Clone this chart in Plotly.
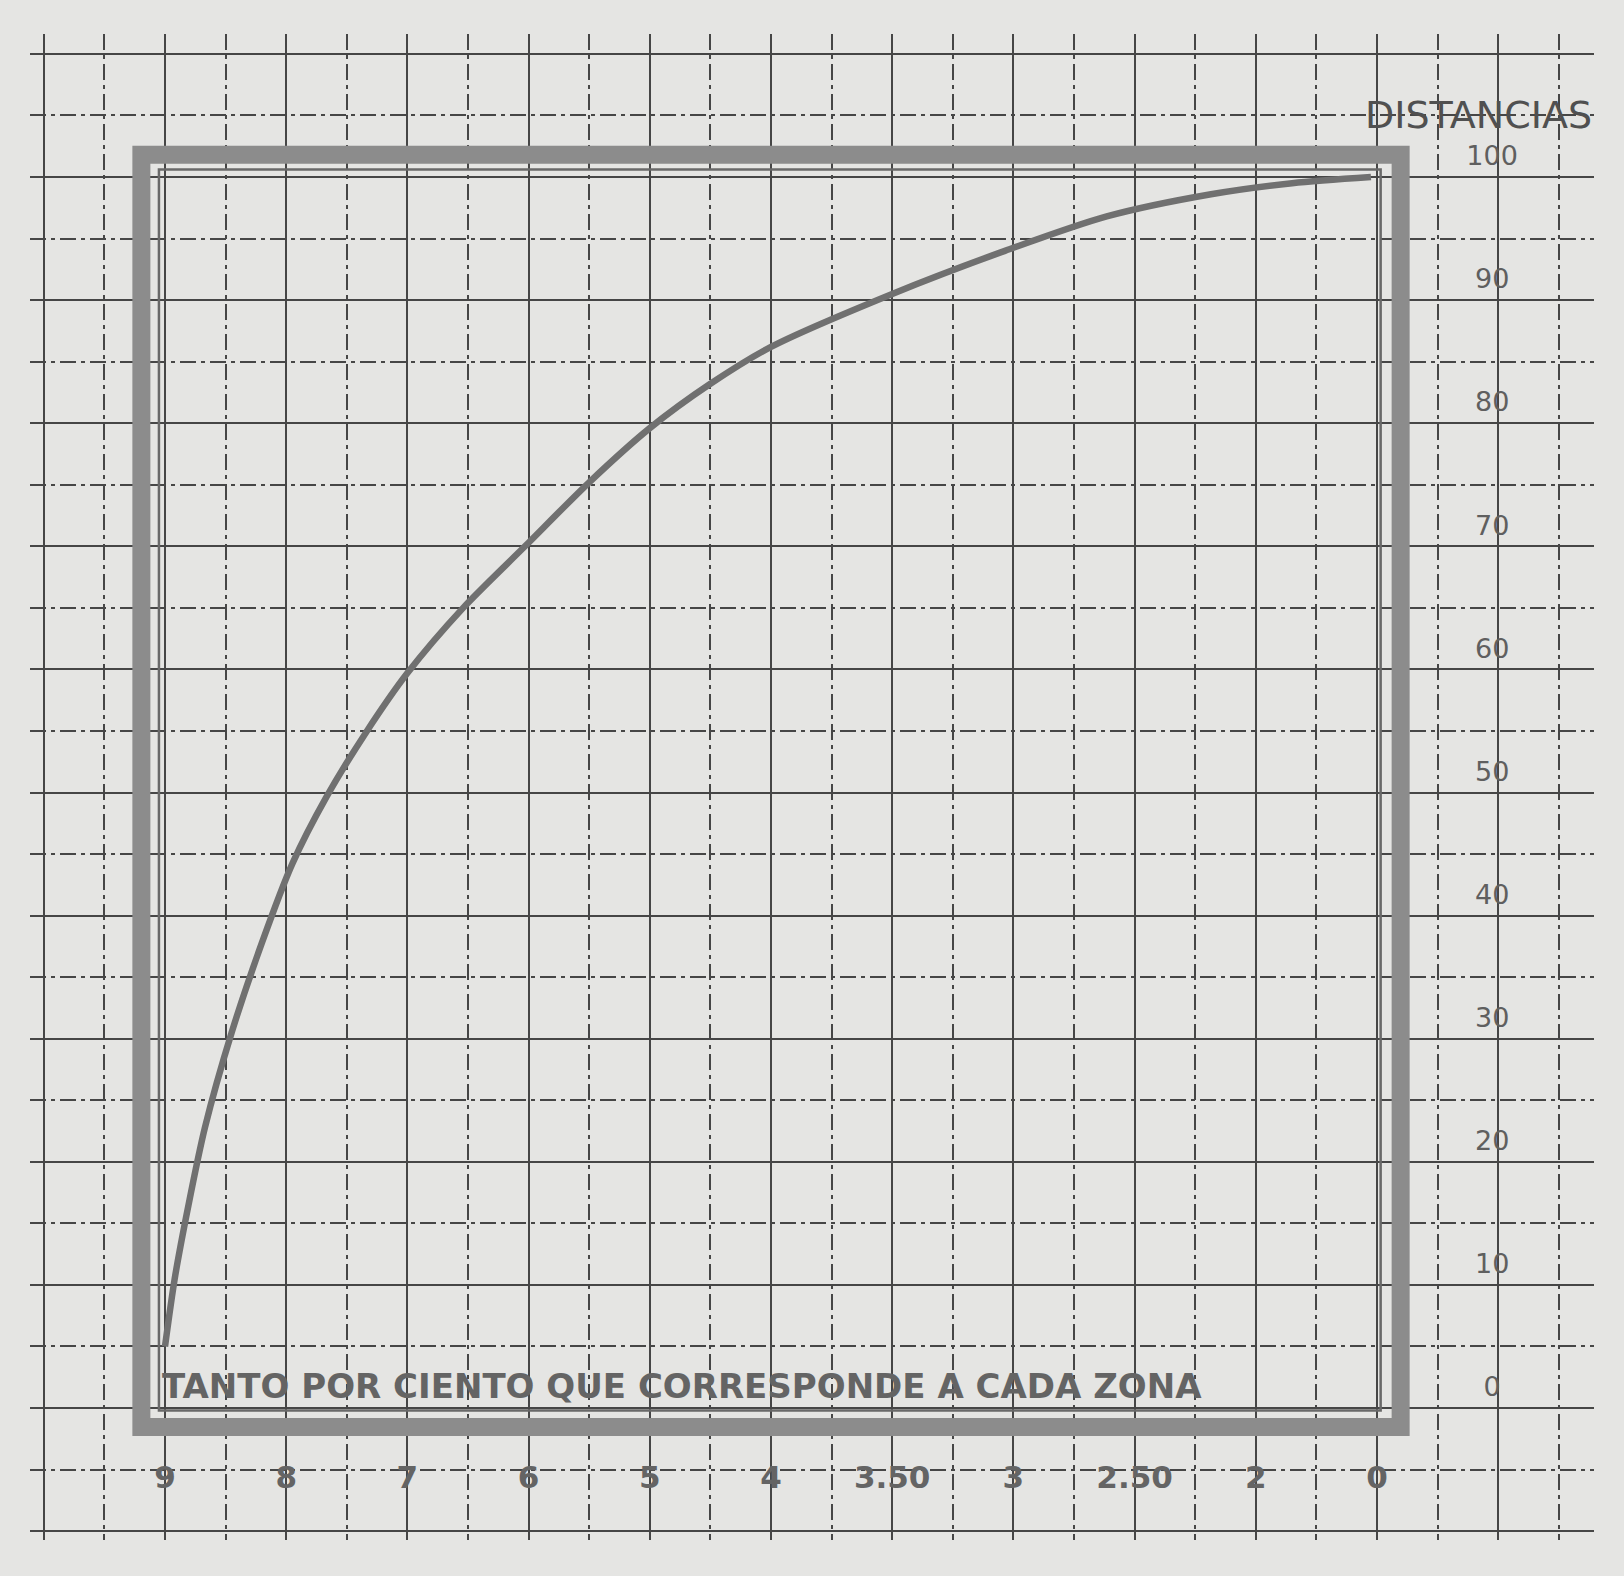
import plotly.graph_objects as go

# ---- data ----
zone_labels = ["9", "8", "7", "6", "5", "4", "3.50", "3", "2.50", "2", "0"]
zone_pos = list(range(len(zone_labels)))
dist_ticks = [0, 10, 20, 30, 40, 50, 60, 70, 80, 90, 100]

curve_x = [0, 0.08, 0.19, 0.33, 0.55, 0.8, 1.05, 1.33, 1.66, 2.0, 2.46, 2.97,
           3.5, 4.0, 4.5, 5.0, 6.0, 6.93, 7.77, 8.63, 9.3, 9.95]
curve_y = [5, 10.5, 16.3, 22.8, 30.5, 37.8, 44.2, 49.6, 54.9, 59.7, 65, 70,
           75.2, 79.6, 83.2, 86.2, 90.5, 94.0, 96.8, 98.6, 99.5, 100]

y_title = "DISTANCIAS"
x_title = "TANTO POR CIENTO QUE CORRESPONDE A CADA ZONA"

# ---- styling ----
PAPER = "rgb(229,229,227)"
GRID = "rgb(70,70,70)"
BAND = "rgb(140,140,140)"

W, H = 1624, 1576
ml, mr, mt, mb = 30, 30, 34, 36
px_per_x = 121.2
px_per_y = 12.31
x_lo = -(165 - ml) / px_per_x
x_hi = x_lo + (W - ml - mr) / px_per_x
y_hi = (1408 - mt) / px_per_y
y_lo = y_hi - (H - mt - mb) / px_per_y

fig = go.Figure()

# curve
fig.add_trace(go.Scatter(
    x=curve_x, y=curve_y, mode="lines",
    line=dict(color="rgb(112,112,112)", width=6.5, shape="spline", smoothing=0.8),
    hoverinfo="skip", showlegend=False))

# zone labels (bottom)
fig.add_trace(go.Scatter(
    x=zone_pos, y=[-5.9] * len(zone_pos), mode="text", text=zone_labels,
    textfont=dict(family="DejaVu Sans", size=31, color="rgb(100,100,100)", weight="bold"),
    hoverinfo="skip", showlegend=False))

# distance labels (right)
fig.add_trace(go.Scatter(
    x=[zone_pos[-1] + 0.95] * len(dist_ticks), y=[v + 1.5 for v in dist_ticks],
    mode="text", text=[str(v) for v in dist_ticks],
    textfont=dict(family="DejaVu Sans", size=27, color="rgb(95,95,95)"),
    hoverinfo="skip", showlegend=False))

x0, x1 = zone_pos[0], zone_pos[-1]
y0, y1 = dist_ticks[0], dist_ticks[-1]

# double frame
fig.add_shape(type="rect", xref="x", yref="y",
              x0=x0 - 0.195, x1=x1 + 0.195, y0=y0 - 1.55, y1=y1 + 1.8,
              line=dict(color=BAND, width=18), layer="above")
fig.add_shape(type="rect", xref="x", yref="y",
              x0=x0 - 0.05, x1=x1 + 0.03, y0=y0 - 0.2, y1=y1 + 0.6,
              line=dict(color="rgb(105,105,105)", width=2.5), layer="above")

fig.add_annotation(x=x1 + 0.84, y=105.0, xref="x", yref="y", text=y_title,
                   showarrow=False,
                   font=dict(family="DejaVu Sans", size=38, color="rgb(80,80,80)"))
fig.add_annotation(x=x0 - 0.04, y=1.8, xref="x", yref="y", text=x_title,
                   showarrow=False, xanchor="left",
                   font=dict(family="DejaVu Sans", size=34, color="rgb(100,100,100)",
                             weight="bold"))

minor_dash = "16px,5px,4px,5px"
fig.update_layout(
    width=W, height=H,
    margin=dict(l=ml, r=mr, t=mt, b=mb),
    paper_bgcolor=PAPER, plot_bgcolor=PAPER,
    showlegend=False,
    xaxis=dict(range=[x_lo, x_hi], tick0=0, dtick=1, showgrid=True,
               gridcolor=GRID, gridwidth=2.3, zeroline=False,
               showticklabels=False, ticks="", showline=False,
               minor=dict(tick0=0, dtick=0.5, showgrid=True, gridcolor=GRID,
                          gridwidth=2, griddash=minor_dash)),
    yaxis=dict(range=[y_lo, y_hi], tick0=0, dtick=10, showgrid=True,
               gridcolor=GRID, gridwidth=2.3, zeroline=False,
               showticklabels=False, ticks="", showline=False,
               minor=dict(tick0=0, dtick=5, showgrid=True, gridcolor=GRID,
                          gridwidth=2, griddash=minor_dash)),
)

post = ("document.body.style.margin='0';"
        "document.body.style.background='" + PAPER + "';"
        "document.documentElement.style.background='" + PAPER + "';")
fig.write_html("out.html", post_script=post, config={"displayModeBar": False})
